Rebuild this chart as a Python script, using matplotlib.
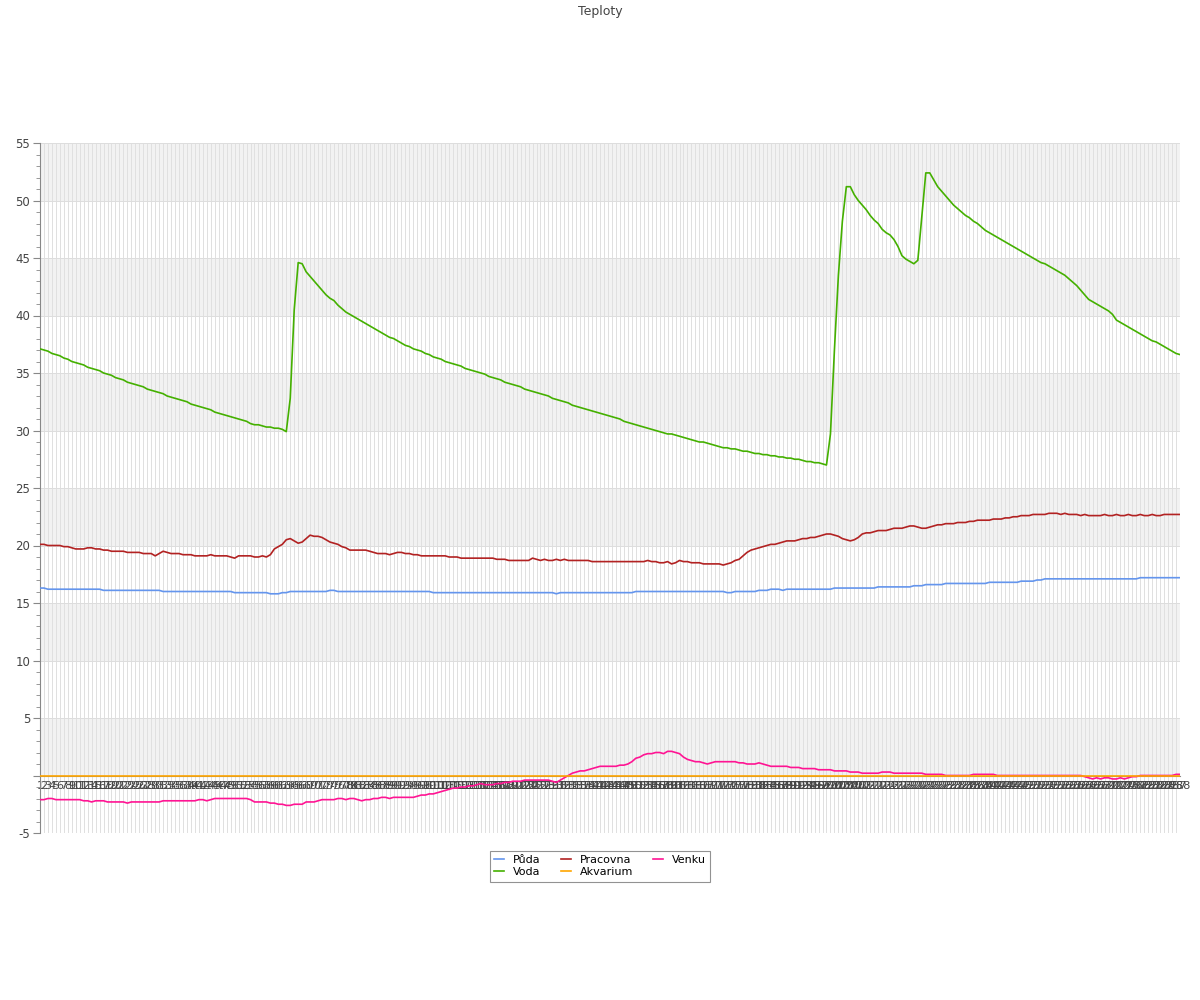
import matplotlib
matplotlib.use("Agg")
import matplotlib.pyplot as plt
from matplotlib.ticker import MultipleLocator, FixedLocator

# ---- data (one value per 5 min sample) ----
labels = [str(i) for i in range(1, 289)]

puda = [
    16.3, 16.3, 16.2, 16.2, 16.2, 16.2, 16.2, 16.2, 16.2, 16.2,
    16.2, 16.2, 16.2, 16.2, 16.2, 16.2, 16.1, 16.1, 16.1, 16.1,
    16.1, 16.1, 16.1, 16.1, 16.1, 16.1, 16.1, 16.1, 16.1, 16.1,
    16.1, 16.0, 16.0, 16.0, 16.0, 16.0, 16.0, 16.0, 16.0, 16.0,
    16.0, 16.0, 16.0, 16.0, 16.0, 16.0, 16.0, 16.0, 16.0, 15.9,
    15.9, 15.9, 15.9, 15.9, 15.9, 15.9, 15.9, 15.9, 15.8, 15.8,
    15.8, 15.9, 15.9, 16.0, 16.0, 16.0, 16.0, 16.0, 16.0, 16.0,
    16.0, 16.0, 16.0, 16.1, 16.1, 16.0, 16.0, 16.0, 16.0, 16.0,
    16.0, 16.0, 16.0, 16.0, 16.0, 16.0, 16.0, 16.0, 16.0, 16.0,
    16.0, 16.0, 16.0, 16.0, 16.0, 16.0, 16.0, 16.0, 16.0, 15.9,
    15.9, 15.9, 15.9, 15.9, 15.9, 15.9, 15.9, 15.9, 15.9, 15.9,
    15.9, 15.9, 15.9, 15.9, 15.9, 15.9, 15.9, 15.9, 15.9, 15.9,
    15.9, 15.9, 15.9, 15.9, 15.9, 15.9, 15.9, 15.9, 15.9, 15.9,
    15.8, 15.9, 15.9, 15.9, 15.9, 15.9, 15.9, 15.9, 15.9, 15.9,
    15.9, 15.9, 15.9, 15.9, 15.9, 15.9, 15.9, 15.9, 15.9, 15.9,
    16.0, 16.0, 16.0, 16.0, 16.0, 16.0, 16.0, 16.0, 16.0, 16.0,
    16.0, 16.0, 16.0, 16.0, 16.0, 16.0, 16.0, 16.0, 16.0, 16.0,
    16.0, 16.0, 16.0, 15.9, 15.9, 16.0, 16.0, 16.0, 16.0, 16.0,
    16.0, 16.1, 16.1, 16.1, 16.2, 16.2, 16.2, 16.1, 16.2, 16.2,
    16.2, 16.2, 16.2, 16.2, 16.2, 16.2, 16.2, 16.2, 16.2, 16.2,
    16.3, 16.3, 16.3, 16.3, 16.3, 16.3, 16.3, 16.3, 16.3, 16.3,
    16.3, 16.4, 16.4, 16.4, 16.4, 16.4, 16.4, 16.4, 16.4, 16.4,
    16.5, 16.5, 16.5, 16.6, 16.6, 16.6, 16.6, 16.6, 16.7, 16.7,
    16.7, 16.7, 16.7, 16.7, 16.7, 16.7, 16.7, 16.7, 16.7, 16.8,
    16.8, 16.8, 16.8, 16.8, 16.8, 16.8, 16.8, 16.9, 16.9, 16.9,
    16.9, 17.0, 17.0, 17.1, 17.1, 17.1, 17.1, 17.1, 17.1, 17.1,
    17.1, 17.1, 17.1, 17.1, 17.1, 17.1, 17.1, 17.1, 17.1, 17.1,
    17.1, 17.1, 17.1, 17.1, 17.1, 17.1, 17.1, 17.2, 17.2, 17.2,
    17.2, 17.2, 17.2, 17.2, 17.2, 17.2, 17.2, 17.2,
]

voda = [
    37.1, 37.0, 36.9, 36.7, 36.6, 36.5, 36.3, 36.2, 36.0, 35.9,
    35.8, 35.7, 35.5, 35.4, 35.3, 35.2, 35.0, 34.9, 34.8, 34.6,
    34.5, 34.4, 34.2, 34.1, 34.0, 33.9, 33.8, 33.6, 33.5, 33.4,
    33.3, 33.2, 33.0, 32.9, 32.8, 32.7, 32.6, 32.5, 32.3, 32.2,
    32.1, 32.0, 31.9, 31.8, 31.6, 31.5, 31.4, 31.3, 31.2, 31.1,
    31.0, 30.9, 30.8, 30.6, 30.5, 30.5, 30.4, 30.3, 30.3, 30.2,
    30.2, 30.1, 29.9, 32.8, 40.5, 44.6, 44.5, 43.8, 43.4, 43.0,
    42.6, 42.2, 41.8, 41.5, 41.3, 40.9, 40.6, 40.3, 40.1, 39.9,
    39.7, 39.5, 39.3, 39.1, 38.9, 38.7, 38.5, 38.3, 38.1, 38.0,
    37.8, 37.6, 37.4, 37.3, 37.1, 37.0, 36.9, 36.7, 36.6, 36.4,
    36.3, 36.2, 36.0, 35.9, 35.8, 35.7, 35.6, 35.4, 35.3, 35.2,
    35.1, 35.0, 34.9, 34.7, 34.6, 34.5, 34.4, 34.2, 34.1, 34.0,
    33.9, 33.8, 33.6, 33.5, 33.4, 33.3, 33.2, 33.1, 33.0, 32.8,
    32.7, 32.6, 32.5, 32.4, 32.2, 32.1, 32.0, 31.9, 31.8, 31.7,
    31.6, 31.5, 31.4, 31.3, 31.2, 31.1, 31.0, 30.8, 30.7, 30.6,
    30.5, 30.4, 30.3, 30.2, 30.1, 30.0, 29.9, 29.8, 29.7, 29.7,
    29.6, 29.5, 29.4, 29.3, 29.2, 29.1, 29.0, 29.0, 28.9, 28.8,
    28.7, 28.6, 28.5, 28.5, 28.4, 28.4, 28.3, 28.2, 28.2, 28.1,
    28.0, 28.0, 27.9, 27.9, 27.8, 27.8, 27.7, 27.7, 27.6, 27.6,
    27.5, 27.5, 27.4, 27.3, 27.3, 27.2, 27.2, 27.1, 27.0, 29.7,
    37.0, 43.5, 48.2, 51.2, 51.2, 50.5, 50.0, 49.6, 49.2, 48.7,
    48.3, 48.0, 47.5, 47.2, 47.0, 46.6, 46.0, 45.2, 44.9, 44.7,
    44.5, 44.8, 48.6, 52.4, 52.4, 51.8, 51.2, 50.8, 50.4, 50.0,
    49.6, 49.3, 49.0, 48.7, 48.5, 48.2, 48.0, 47.7, 47.4, 47.2,
    47.0, 46.8, 46.6, 46.4, 46.2, 46.0, 45.8, 45.6, 45.4, 45.2,
    45.0, 44.8, 44.6, 44.5, 44.3, 44.1, 43.9, 43.7, 43.5, 43.2,
    42.9, 42.6, 42.2, 41.8, 41.4, 41.2, 41.0, 40.8, 40.6, 40.4,
    40.1, 39.6, 39.4, 39.2, 39.0, 38.8, 38.6, 38.4, 38.2, 38.0,
    37.8, 37.7, 37.5, 37.3, 37.1, 36.9, 36.7, 36.6,
]

pracovna = [
    20.1, 20.1, 20.0, 20.0, 20.0, 20.0, 19.9, 19.9, 19.8, 19.7,
    19.7, 19.7, 19.8, 19.8, 19.7, 19.7, 19.6, 19.6, 19.5, 19.5,
    19.5, 19.5, 19.4, 19.4, 19.4, 19.4, 19.3, 19.3, 19.3, 19.1,
    19.3, 19.5, 19.4, 19.3, 19.3, 19.3, 19.2, 19.2, 19.2, 19.1,
    19.1, 19.1, 19.1, 19.2, 19.1, 19.1, 19.1, 19.1, 19.0, 18.9,
    19.1, 19.1, 19.1, 19.1, 19.0, 19.0, 19.1, 19.0, 19.2, 19.7,
    19.9, 20.1, 20.5, 20.6, 20.4, 20.2, 20.3, 20.6, 20.9, 20.8,
    20.8, 20.7, 20.5, 20.3, 20.2, 20.1, 19.9, 19.8, 19.6, 19.6,
    19.6, 19.6, 19.6, 19.5, 19.4, 19.3, 19.3, 19.3, 19.2, 19.3,
    19.4, 19.4, 19.3, 19.3, 19.2, 19.2, 19.1, 19.1, 19.1, 19.1,
    19.1, 19.1, 19.1, 19.0, 19.0, 19.0, 18.9, 18.9, 18.9, 18.9,
    18.9, 18.9, 18.9, 18.9, 18.9, 18.8, 18.8, 18.8, 18.7, 18.7,
    18.7, 18.7, 18.7, 18.7, 18.9, 18.8, 18.7, 18.8, 18.7, 18.7,
    18.8, 18.7, 18.8, 18.7, 18.7, 18.7, 18.7, 18.7, 18.7, 18.6,
    18.6, 18.6, 18.6, 18.6, 18.6, 18.6, 18.6, 18.6, 18.6, 18.6,
    18.6, 18.6, 18.6, 18.7, 18.6, 18.6, 18.5, 18.5, 18.6, 18.4,
    18.5, 18.7, 18.6, 18.6, 18.5, 18.5, 18.5, 18.4, 18.4, 18.4,
    18.4, 18.4, 18.3, 18.4, 18.5, 18.7, 18.8, 19.1, 19.4, 19.6,
    19.7, 19.8, 19.9, 20.0, 20.1, 20.1, 20.2, 20.3, 20.4, 20.4,
    20.4, 20.5, 20.6, 20.6, 20.7, 20.7, 20.8, 20.9, 21.0, 21.0,
    20.9, 20.8, 20.6, 20.5, 20.4, 20.5, 20.7, 21.0, 21.1, 21.1,
    21.2, 21.3, 21.3, 21.3, 21.4, 21.5, 21.5, 21.5, 21.6, 21.7,
    21.7, 21.6, 21.5, 21.5, 21.6, 21.7, 21.8, 21.8, 21.9, 21.9,
    21.9, 22.0, 22.0, 22.0, 22.1, 22.1, 22.2, 22.2, 22.2, 22.2,
    22.3, 22.3, 22.3, 22.4, 22.4, 22.5, 22.5, 22.6, 22.6, 22.6,
    22.7, 22.7, 22.7, 22.7, 22.8, 22.8, 22.8, 22.7, 22.8, 22.7,
    22.7, 22.7, 22.6, 22.7, 22.6, 22.6, 22.6, 22.6, 22.7, 22.6,
    22.6, 22.7, 22.6, 22.6, 22.7, 22.6, 22.6, 22.7, 22.6, 22.6,
    22.7, 22.6, 22.6, 22.7, 22.7, 22.7, 22.7, 22.7,
]

akvarium = [0.0] * 288

venku = [
    -2.1, -2.1, -2.0, -2.0, -2.1, -2.1, -2.1, -2.1, -2.1, -2.1,
    -2.1, -2.2, -2.2, -2.3, -2.2, -2.2, -2.2, -2.3, -2.3, -2.3,
    -2.3, -2.3, -2.4, -2.3, -2.3, -2.3, -2.3, -2.3, -2.3, -2.3,
    -2.3, -2.2, -2.2, -2.2, -2.2, -2.2, -2.2, -2.2, -2.2, -2.2,
    -2.1, -2.1, -2.2, -2.1, -2.0, -2.0, -2.0, -2.0, -2.0, -2.0,
    -2.0, -2.0, -2.0, -2.1, -2.3, -2.3, -2.3, -2.3, -2.4, -2.4,
    -2.5, -2.5, -2.6, -2.6, -2.5, -2.5, -2.5, -2.3, -2.3, -2.3,
    -2.2, -2.1, -2.1, -2.1, -2.1, -2.0, -2.0, -2.1, -2.0, -2.0,
    -2.1, -2.2, -2.1, -2.1, -2.0, -2.0, -1.9, -1.9, -2.0, -1.9,
    -1.9, -1.9, -1.9, -1.9, -1.9, -1.8, -1.7, -1.7, -1.6, -1.6,
    -1.5, -1.4, -1.3, -1.2, -1.1, -1.1, -1.0, -1.0, -0.9, -0.9,
    -0.8, -0.7, -0.8, -0.8, -0.8, -0.7, -0.7, -0.6, -0.6, -0.5,
    -0.5, -0.5, -0.4, -0.4, -0.4, -0.4, -0.4, -0.4, -0.4, -0.5,
    -0.6, -0.4, -0.2, 0.0, 0.2, 0.3, 0.4, 0.4, 0.5, 0.6,
    0.7, 0.8, 0.8, 0.8, 0.8, 0.8, 0.9, 0.9, 1.0, 1.2,
    1.5, 1.6, 1.8, 1.9, 1.9, 2.0, 2.0, 1.9, 2.1, 2.1,
    2.0, 1.9, 1.6, 1.4, 1.3, 1.2, 1.2, 1.1, 1.0, 1.1,
    1.2, 1.2, 1.2, 1.2, 1.2, 1.2, 1.1, 1.1, 1.0, 1.0,
    1.0, 1.1, 1.0, 0.9, 0.8, 0.8, 0.8, 0.8, 0.8, 0.7,
    0.7, 0.7, 0.6, 0.6, 0.6, 0.6, 0.5, 0.5, 0.5, 0.5,
    0.4, 0.4, 0.4, 0.4, 0.3, 0.3, 0.3, 0.2, 0.2, 0.2,
    0.2, 0.2, 0.3, 0.3, 0.3, 0.2, 0.2, 0.2, 0.2, 0.2,
    0.2, 0.2, 0.2, 0.1, 0.1, 0.1, 0.1, 0.1, 0.0, 0.0,
    0.0, 0.0, 0.0, 0.0, 0.0, 0.1, 0.1, 0.1, 0.1, 0.1,
    0.1, 0.0, 0.0, 0.0, 0.0, 0.0, 0.0, 0.0, 0.0, 0.0,
    0.0, 0.0, 0.0, 0.0, 0.0, 0.0, 0.0, 0.0, 0.0, 0.0,
    0.0, 0.0, 0.0, -0.1, -0.2, -0.3, -0.2, -0.3, -0.2, -0.2,
    -0.3, -0.3, -0.2, -0.3, -0.2, -0.1, -0.1, 0.0, 0.0, 0.0,
    0.0, 0.0, 0.0, 0.0, 0.0, 0.0, 0.1, 0.1,
]

series = [
    ("Půda", puda, "#6495ed", 3),
    ("Voda", voda, "#44b000", 3),
    ("Pracovna", pracovna, "#b22222", 3),
    ("Akvarium", akvarium, "#ffa500", 5),
    ("Venku", venku, "#ff1493", 4),
]

# ---- figure ----
fig = plt.figure(figsize=(12, 10), dpi=100)
ax = fig.add_axes([40 / 1200, 167 / 1000, 1140 / 1200, 690 / 1000])

x = list(range(len(labels)))

# alternating background bands
for lo in range(0, 55, 10):
    ax.axhspan(lo, lo + 5, color="#f2f2f2", zorder=0, lw=0)

for name, vals, col, z in series:
    ax.plot(x, vals, color=col, lw=1.2, label=name, zorder=z)

ax.set_xlim(0, len(labels) - 1)
ax.set_ylim(-5, 55)

# y axis
yt = list(range(-5, 56, 5))
ax.yaxis.set_major_locator(FixedLocator(yt))
ax.yaxis.set_minor_locator(MultipleLocator(1))
ax.set_yticklabels(["" if v == 0 else str(v) for v in yt])
ax.tick_params(axis="y", which="major", length=5, color="#888888",
               labelsize=8.5, labelcolor="#444444", pad=2)
ax.tick_params(axis="y", which="minor", length=3, color="#888888")

# x axis on the zero line, every sample labelled
ax.set_xticks(x)
ax.set_xticklabels(labels)
ax.tick_params(axis="x", length=0, labelsize=8, labelcolor="#444444", pad=4)
ax.spines["bottom"].set_position(("data", 0))
ax.spines["bottom"].set_color("#888888")
ax.spines["left"].set_color("#888888")
ax.spines["top"].set_visible(False)
ax.spines["right"].set_visible(False)

ax.grid(axis="x", color="#e0e0e0", lw=0.7)
ax.grid(axis="y", which="major", color="#dddddd", lw=0.7)
ax.set_axisbelow(True)

fig.text(0.5, 0.995, "Teploty", ha="center", va="top", fontsize=9, color="#444444")

leg = fig.legend(loc="upper center", bbox_to_anchor=(0.5, 0.155), ncol=3,
                 fontsize=8, frameon=True, fancybox=False, edgecolor="#777777",
                 handlelength=0.9, handletextpad=0.8, columnspacing=1.8,
                 borderpad=0.4, labelspacing=0.2)
leg.get_frame().set_linewidth(0.8)

fig.savefig("out.png", dpi=100, facecolor="white")
